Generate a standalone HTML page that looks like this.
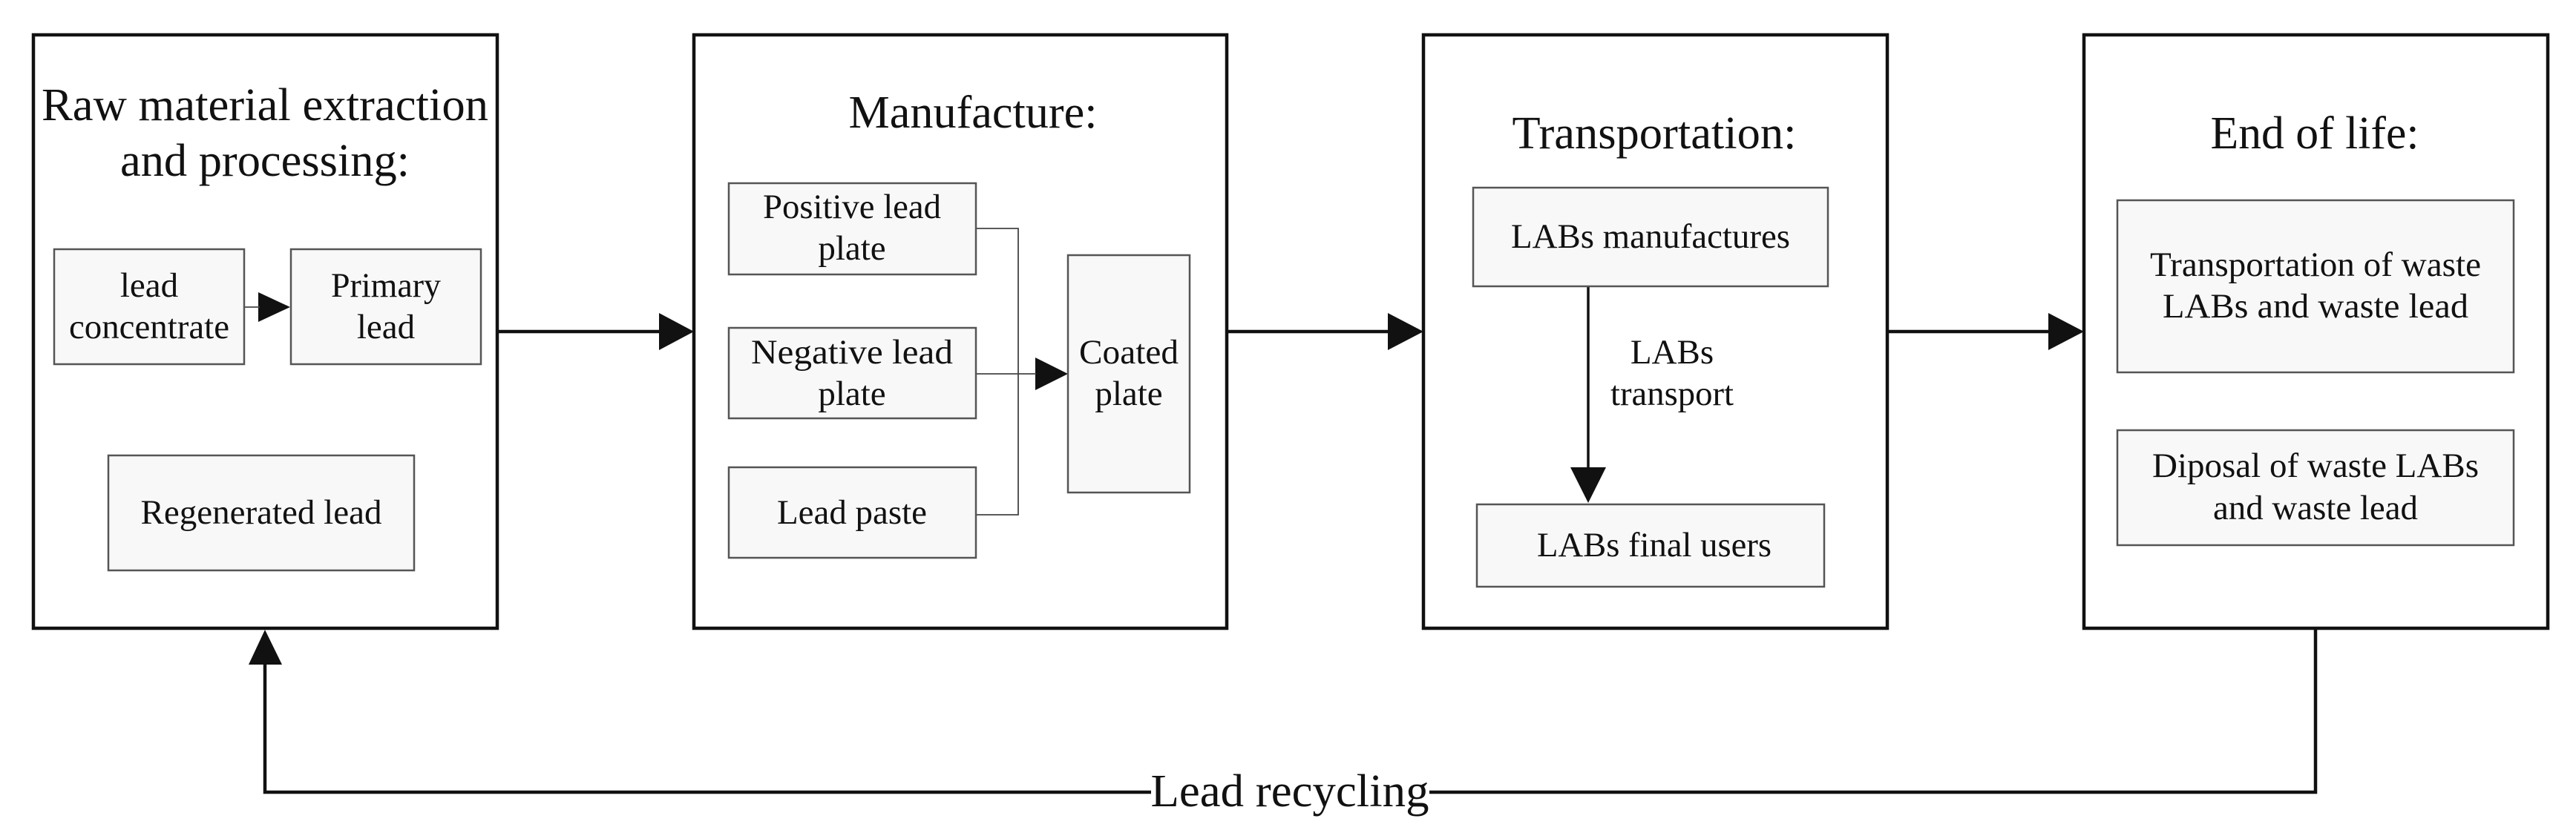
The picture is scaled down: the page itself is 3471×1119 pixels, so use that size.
<!DOCTYPE html>
<html><head><meta charset="utf-8"><style>html,body{margin:0;padding:0;background:#fff}svg{display:block}</style></head>
<body>
<svg width="3471" height="1119" viewBox="0 0 3471 1119" xmlns="http://www.w3.org/2000/svg" font-family="Liberation Serif, serif" fill="#111">
<g fill="none" stroke="#111" stroke-width="4.5">
<rect x="45" y="47" width="625" height="800"/>
<rect x="935" y="47" width="718" height="800"/>
<rect x="1918" y="47" width="625" height="800"/>
<rect x="2808" y="47" width="625" height="800"/>
<line x1="670" y1="447" x2="890" y2="447"/>
<line x1="1653" y1="447" x2="1872" y2="447"/>
<line x1="2543" y1="447" x2="2762" y2="447"/>
<polyline points="357,896 357,1068 1551,1068"/>
<polyline points="1926,1068 3120,1068 3120,847"/>
<line x1="2140" y1="386" x2="2140" y2="632" stroke-width="3.5"/>
</g>
<g fill="#111">
<polygon points="888,422 935,447 888,472"/>
<polygon points="1870,422 1918,447 1870,472"/>
<polygon points="2760,422 2808,447 2760,472"/>
<polygon points="335,896 357,849 380,896"/>
<polygon points="2116,630 2164,630 2140,678"/>
<polygon points="348,394 391,414 348,434"/>
<polygon points="1395,482 1439,504 1395,526"/>
</g>
<g fill="none" stroke="#444" stroke-width="1.8">
<line x1="329" y1="414" x2="350" y2="414"/>
<polyline points="1315,308 1372,308 1372,694 1315,694"/>
<line x1="1315" y1="504" x2="1396" y2="504"/>
</g>
<g fill="#f8f8f8" stroke="#555" stroke-width="2.5">
<rect x="73" y="336" width="256" height="155"/>
<rect x="392" y="336" width="256" height="155"/>
<rect x="146" y="614" width="412" height="155"/>
<rect x="982" y="247" width="333" height="123"/>
<rect x="982" y="442" width="333" height="122"/>
<rect x="982" y="630" width="333" height="122"/>
<rect x="1439" y="344" width="164" height="320"/>
<rect x="1985" y="253" width="478" height="133"/>
<rect x="1990" y="680" width="468" height="111"/>
<rect x="2853" y="270" width="534" height="232"/>
<rect x="2853" y="580" width="534" height="155"/>
</g>
<g text-anchor="middle" font-size="62">
<text x="357" y="162" textLength="602" lengthAdjust="spacingAndGlyphs">Raw material extraction</text>
<text x="357" y="237" textLength="390" lengthAdjust="spacingAndGlyphs">and processing:</text>
<text x="1311" y="172" textLength="335" lengthAdjust="spacingAndGlyphs">Manufacture:</text>
<text x="2229" y="200" textLength="383" lengthAdjust="spacingAndGlyphs">Transportation:</text>
<text x="3119" y="200" textLength="281" lengthAdjust="spacingAndGlyphs">End of life:</text>
<text x="1738" y="1087" textLength="375" lengthAdjust="spacingAndGlyphs">Lead recycling</text>
</g>
<g text-anchor="middle" font-size="47">
<text x="201" y="400">lead</text>
<text x="201" y="456" textLength="216" lengthAdjust="spacingAndGlyphs">concentrate</text>
<text x="520" y="400" textLength="148" lengthAdjust="spacingAndGlyphs">Primary</text>
<text x="520" y="456">lead</text>
<text x="352" y="706" textLength="325" lengthAdjust="spacingAndGlyphs">Regenerated lead</text>
<text x="1148" y="294" textLength="240" lengthAdjust="spacingAndGlyphs">Positive lead</text>
<text x="1148" y="350">plate</text>
<text x="1148" y="490" textLength="272" lengthAdjust="spacingAndGlyphs">Negative  lead</text>
<text x="1148" y="546">plate</text>
<text x="1148" y="706" textLength="202" lengthAdjust="spacingAndGlyphs">Lead paste</text>
<text x="1521" y="490" textLength="134" lengthAdjust="spacingAndGlyphs">Coated</text>
<text x="1521" y="546">plate</text>
<text x="2224" y="334" textLength="376" lengthAdjust="spacingAndGlyphs">LABs manufactures</text>
<text x="2253" y="490">LABs</text>
<text x="2253" y="546" textLength="166" lengthAdjust="spacingAndGlyphs">transport</text>
<text x="2229" y="750" textLength="316" lengthAdjust="spacingAndGlyphs">LABs final users</text>
<text x="3120" y="372" textLength="446" lengthAdjust="spacingAndGlyphs">Transportation of waste</text>
<text x="3120" y="428" textLength="412" lengthAdjust="spacingAndGlyphs">LABs  and waste lead</text>
<text x="3120" y="643" textLength="440" lengthAdjust="spacingAndGlyphs">Diposal of waste LABs</text>
<text x="3120" y="700" textLength="276" lengthAdjust="spacingAndGlyphs">and waste lead</text>
</g>
</svg>
</body></html>
